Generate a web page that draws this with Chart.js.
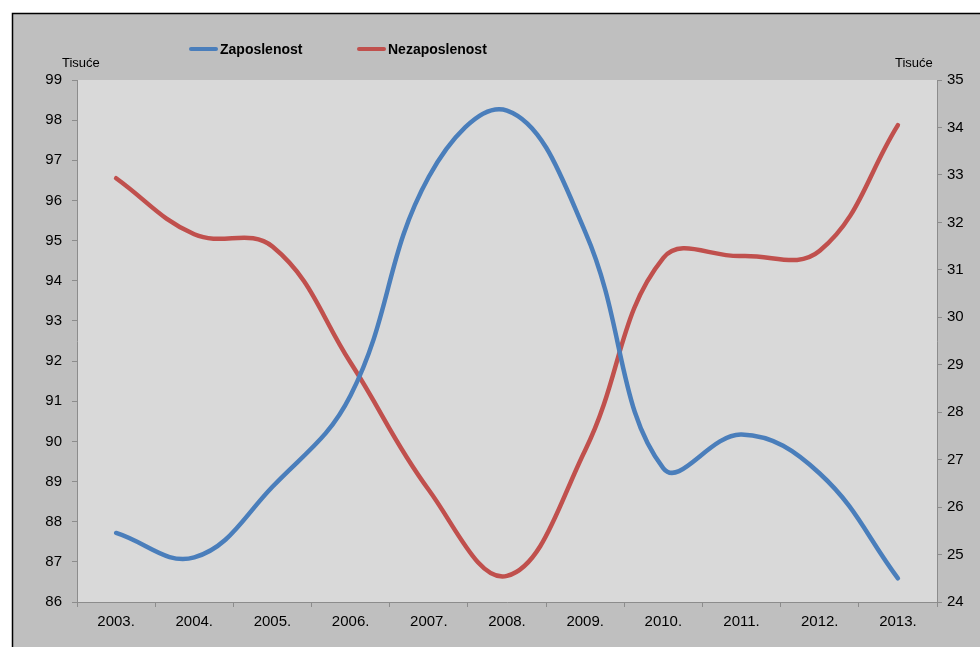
<!DOCTYPE html>
<html lang="hr">
<head>
    <meta charset="UTF-8">
    <title>Zaposlenost i nezaposlenost</title>
    <script src="https://cdn.jsdelivr.net/npm/chart.js"></script>
    <style>
        body { margin: 0; background: #fff; font-family: 'Liberation Sans', Arial, sans-serif; }
        .wrap { position: relative; width: 980px; height: 647px; }
        canvas { position: absolute; left: 0; top: 0; }
        .legend { position: absolute; top: 41px; font-weight: bold; font-size: 14px; color: #000; display: flex; align-items: center; }
        .legend span.swatch { display: inline-block; width: 29px; height: 4px; border-radius: 2px; margin-right: 2px; }
        .unit { position: absolute; top: 55px; font-size: 13px; color: #000; }
    </style>
</head>
<body>
    <div class="wrap">
        <canvas id="chart" width="980" height="647"></canvas>
        <div class="legend" style="left:189px;"><span class="swatch" style="background:#4a7ebb"></span>Zaposlenost</div>
        <div class="legend" style="left:357px;"><span class="swatch" style="background:#c0504d"></span>Nezaposlenost</div>
        <div class="unit" style="left:62px;">Tisuće</div>
        <div class="unit" style="left:895px;">Tisuće</div>
    </div>

    <script>
        // Data (thousands)
        const years = ['2003.', '2004.', '2005.', '2006.', '2007.', '2008.', '2009.', '2010.', '2011.', '2012.', '2013.'];
        const zaposlenost = [87.72, 87.11, 88.87, 91.15, 96.59, 98.24, 95.22, 89.33, 90.17, 89.2, 86.59];
        const nezaposlenost = [32.93, 31.75, 31.49, 29.04, 26.36, 24.55, 27.2, 31.25, 31.29, 31.4, 34.05];

        // Background: outer frame + plot area fill
        const bgPlugin = {
            id: 'bg',
            beforeDraw(chart) {
                const ctx = chart.ctx;
                const a = chart.chartArea;
                ctx.save();
                ctx.fillStyle = '#bfbfbf';
                ctx.fillRect(12, 13, 968, 634);
                ctx.strokeStyle = '#000';
                ctx.lineWidth = 1.5;
                ctx.beginPath();
                ctx.moveTo(12.5, 647);
                ctx.lineTo(12.5, 13.5);
                ctx.lineTo(980, 13.5);
                ctx.stroke();
                ctx.fillStyle = '#d9d9d9';
                ctx.fillRect(a.left, a.top, a.right - a.left, a.bottom - a.top);
                ctx.restore();
            }
        };

        const tickFont = { family: "'Liberation Sans', Arial, sans-serif", size: 15 };
        const axisGray = '#8c8c8c';

        const ctx = document.getElementById('chart').getContext('2d');
        const chart = new Chart(ctx, {
            type: 'line',
            data: {
                labels: years,
                datasets: [
                    {
                        label: 'Zaposlenost',
                        data: zaposlenost,
                        yAxisID: 'y',
                        borderColor: '#4a7ebb',
                        borderWidth: 4.5,
                        pointRadius: 0,
                        tension: 0.4,
                        borderCapStyle: 'round'
                    },
                    {
                        label: 'Nezaposlenost',
                        data: nezaposlenost,
                        yAxisID: 'y1',
                        borderColor: '#c0504d',
                        borderWidth: 4.5,
                        pointRadius: 0,
                        tension: 0.4,
                        borderCapStyle: 'round'
                    }
                ]
            },
            options: {
                responsive: false,
                animation: false,
                layout: { padding: { top: 80, left: 0, right: 0, bottom: 0 } },
                plugins: {
                    legend: { display: false },
                    tooltip: { enabled: false }
                },
                scales: {
                    x: {
                        offset: true,
                        grid: { offset: true, drawOnChartArea: false, tickLength: 5, color: axisGray },
                        border: { color: axisGray },
                        ticks: { color: '#000', font: tickFont, padding: 6, maxRotation: 0, autoSkip: false },
                        afterFit(scale) { scale.height = 45; }
                    },
                    y: {
                        position: 'left',
                        min: 86,
                        max: 99,
                        grid: { drawOnChartArea: false, tickLength: 5, color: axisGray },
                        border: { color: axisGray },
                        ticks: { stepSize: 1, color: '#000', font: tickFont, padding: 10 },
                        afterFit(scale) { scale.width = 77; }
                    },
                    y1: {
                        position: 'right',
                        min: 24,
                        max: 35,
                        grid: { drawOnChartArea: false, tickLength: 5, color: axisGray },
                        border: { color: axisGray },
                        ticks: { stepSize: 1, color: '#000', font: tickFont, padding: 5 },
                        afterFit(scale) { scale.width = 43; }
                    }
                }
            },
            plugins: [bgPlugin]
        });
    </script>
</body>
</html>
